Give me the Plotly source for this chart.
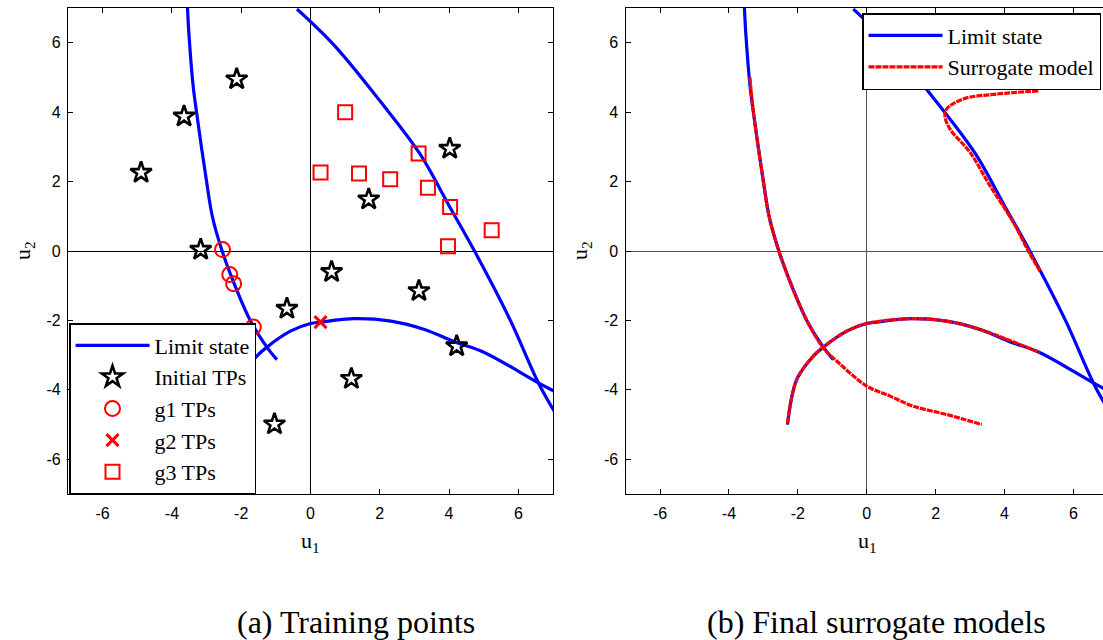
import plotly.graph_objects as go

# ---------------- data ----------------
# Limit state curves (u1, u2)
g1_u1 = [-3.55, -3.51, -3.39, -3.29, -3.0, -2.83, -2.55, -2.18, -1.74, -1.26, -0.97]
g1_u2 = [7.0, 6.26, 4.78, 4.0, 2.0, 0.98, 0.0, -1.0, -2.0, -2.77, -3.13]

g2_u1 = [-2.3, -2.03, -1.55, -1.26, -0.58, 0.0, 0.29, 1.26, 2.32, 3.29, 4.17, 5.03, 6.58, 7.07]
g2_u2 = [-5.0, -3.70, -3.03, -2.77, -2.31, -2.09, -2.05, -1.95, -2.02, -2.26, -2.62, -2.93, -3.80, -4.06]

g3_u1 = [-0.39, 0.68, 2.03, 3.15, 4.02, 4.75, 5.77, 6.58, 7.08]
g3_u2 = [6.97, 5.93, 4.29, 2.81, 1.27, -0.03, -2.0, -3.80, -4.69]

# Surrogate models (panel b)
s1_u1 = [-3.39, -3.29, -3.0, -2.83, -2.55, -2.18, -1.74, -1.26, -0.87, 0.0, 0.68, 1.35, 2.32, 3.34]
s1_u2 = [5.0, 4.0, 2.0, 0.98, 0.0, -1.0, -2.0, -2.79, -3.17, -3.89, -4.18, -4.47, -4.71, -5.0]

s2_u1 = [-2.3, -2.03, -1.55, -1.26, -0.58, 0.0, 1.35, 2.32, 3.29, 5.03]
s2_u2 = [-4.97, -3.70, -3.03, -2.77, -2.31, -2.09, -1.95, -2.02, -2.26, -2.93]

s3_u1 = [4.98, 3.77, 2.80, 2.32, 2.27, 2.42, 3.00, 3.58, 4.26, 4.69, 5.03]
s3_u2 = [4.61, 4.52, 4.38, 4.09, 3.89, 3.51, 2.84, 1.88, 0.82, 0.0, -0.58]

# Training points (panel a)
init_u1 = [-2.13, -3.65, -4.89, -3.17, 4.02, 1.68, 0.61, 3.13, -0.68, 4.22, 1.18, -1.04]
init_u2 = [4.95, 3.88, 2.26, 0.04, 2.95, 1.49, -0.60, -1.15, -1.66, -2.74, -3.68, -4.99]

tp1_u1 = [-2.54, -2.33, -2.22, -1.65]
tp1_u2 = [0.04, -0.68, -0.94, -2.19]

tp2_u1 = [0.29]
tp2_u2 = [-2.05]

tp3_u1 = [1.0, 0.29, 1.40, 2.30, 3.12, 3.39, 4.03, 5.23, 3.97]
tp3_u2 = [4.0, 2.26, 2.23, 2.07, 2.81, 1.82, 1.27, 0.60, 0.14]

tick_vals = [-6, -4, -2, 0, 2, 4, 6]
tick_text = ["-6", "-4", "-2", "0", "2", "4", "6"]

# ---------------- figure ----------------
W, H = 1103, 640
BLUE = "#0000FF"
RED = "#FF0000"
SERIF = "Liberation Serif"
fig = go.Figure()

def px_x(p):
    return p / W

def px_y(p):
    return 1 - p / H

# Panel (a)
for i, (xs, ys) in enumerate([(g1_u1, g1_u2), (g2_u1, g2_u2), (g3_u1, g3_u2)]):
    fig.add_trace(go.Scatter(x=xs, y=ys, mode="lines",
                             line=dict(color=BLUE, width=3.2, shape="spline", smoothing=1.0),
                             name="Limit state", legend="legend", showlegend=(i == 0),
                             xaxis="x", yaxis="y"))
fig.add_trace(go.Scatter(x=init_u1, y=init_u2, mode="markers", name="Initial TPs", legend="legend",
                         marker=dict(symbol="star-open", size=16, color="black", line=dict(width=2.6, color="black")),
                         xaxis="x", yaxis="y"))
fig.add_trace(go.Scatter(x=tp1_u1, y=tp1_u2, mode="markers", name="g1 TPs", legend="legend",
                         marker=dict(symbol="circle-open", size=15, color=RED, line=dict(width=2, color=RED)),
                         xaxis="x", yaxis="y"))
fig.add_trace(go.Scatter(x=tp2_u1, y=tp2_u2, mode="markers", name="g2 TPs", legend="legend",
                         marker=dict(symbol="x-thin-open", size=12, color=RED, line=dict(width=3, color=RED)),
                         xaxis="x", yaxis="y"))
fig.add_trace(go.Scatter(x=tp3_u1, y=tp3_u2, mode="markers", name="g3 TPs", legend="legend",
                         marker=dict(symbol="square-open", size=14, color=RED, line=dict(width=2, color=RED)),
                         xaxis="x", yaxis="y"))

# Panel (b)
for i, (xs, ys) in enumerate([(g1_u1, g1_u2), (g2_u1, g2_u2), (g3_u1, g3_u2)]):
    fig.add_trace(go.Scatter(x=xs, y=ys, mode="lines",
                             line=dict(color=BLUE, width=3.2, shape="spline", smoothing=1.0),
                             name="Limit state", legend="legend2", showlegend=(i == 0),
                             xaxis="x2", yaxis="y2"))
for i, (xs, ys) in enumerate([(s1_u1, s1_u2), (s2_u1, s2_u2), (s3_u1, s3_u2)]):
    fig.add_trace(go.Scatter(x=xs, y=ys, mode="lines",
                             line=dict(color=RED, width=3.2, shape="spline", smoothing=1.0, dash="6px,1px"),
                             name="Surrogate model", legend="legend2", showlegend=(i == 0),
                             xaxis="x2", yaxis="y2"))

ax_common = dict(
    tickvals=tick_vals, ticktext=tick_text, ticks="inside", ticklen=5, tickwidth=1, tickcolor="black",
    showgrid=False, showline=True, linecolor="black", linewidth=1.3,
    tickfont=dict(family="Liberation Sans", size=16, color="black"),
    zeroline=True, zerolinewidth=1,
)

y_dom = [px_y(494), px_y(8)]
legend_font = dict(family=SERIF, size=22, color="black")
fig.update_layout(
    width=W, height=H, margin=dict(l=0, r=0, t=0, b=0),
    paper_bgcolor="white", plot_bgcolor="white",
    xaxis=dict(domain=[px_x(68), px_x(553)], range=[-7, 7], anchor="y", mirror="ticks",
               zerolinecolor="black", ticklabelstandoff=5, **ax_common),
    yaxis=dict(domain=y_dom, range=[-7, 7], anchor="x", mirror="ticks",
               zerolinecolor="black", ticklabelstandoff=3, **ax_common),
    xaxis2=dict(domain=[px_x(625.6), 1.0], range=[-7, 6.86], anchor="y2", mirror="ticks",
                zerolinecolor="#555555", ticklabelstandoff=5, **ax_common),
    yaxis2=dict(domain=y_dom, range=[-7, 7], anchor="x2", mirror=False,
                zerolinecolor="#555555", ticklabelstandoff=3, **ax_common),
    legend=dict(x=px_x(69), y=px_y(494), xanchor="left", yanchor="bottom",
                bgcolor="white", bordercolor="black", borderwidth=1.5, itemwidth=74,
                font=legend_font),
    legend2=dict(x=px_x(1101), y=px_y(13), xanchor="right", yanchor="top",
                 bgcolor="white", bordercolor="black", borderwidth=1.5, itemwidth=74,
                 font=legend_font),
    showlegend=True,
)

serif = dict(family=SERIF, color="black")
annots = [
    dict(x=px_x(310), y=px_y(542), text="u<sub>1</sub>", font=dict(size=22, **serif)),
    dict(x=px_x(867), y=px_y(542), text="u<sub>1</sub>", font=dict(size=22, **serif)),
    dict(x=px_x(24), y=px_y(251), text="u<sub>2</sub>", textangle=-90, font=dict(size=22, **serif)),
    dict(x=px_x(581), y=px_y(251), text="u<sub>2</sub>", textangle=-90, font=dict(size=22, **serif)),
    dict(x=px_x(356), y=px_y(622), text="(a) Training points", font=dict(size=32, **serif)),
    dict(x=px_x(876), y=px_y(622), text="(b) Final surrogate models", font=dict(size=32, **serif)),
]
for a in annots:
    fig.add_annotation(xref="paper", yref="paper", showarrow=False, xanchor="center", yanchor="middle", **a)

fig.write_html("out.html")
